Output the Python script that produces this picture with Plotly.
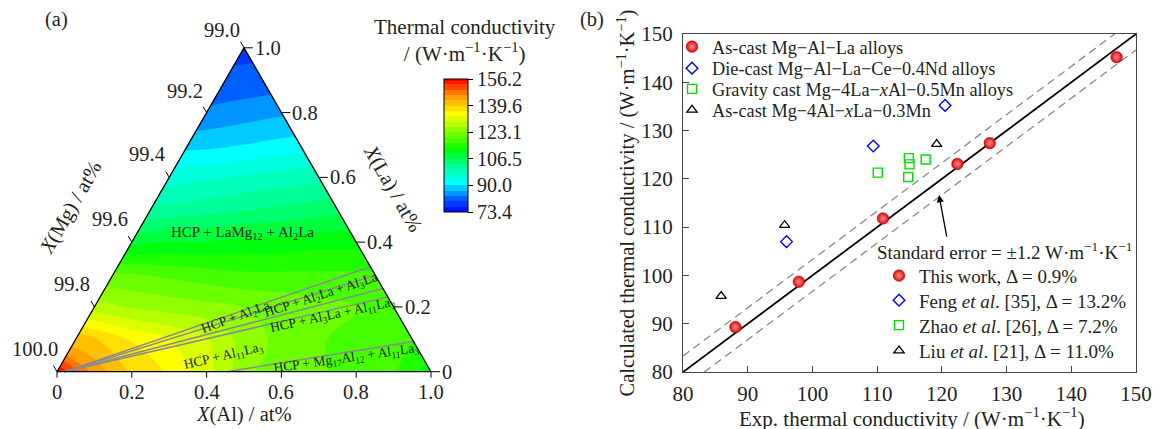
import plotly.graph_objects as go

FONT = "Liberation Serif"
TXT = "#231f20"

# ---------------- Panel (b) data ----------------
this_work_exp = [88.1, 97.9, 110.9, 122.4, 127.4, 147.0]
this_work_calc = [89.3, 98.7, 111.8, 123.1, 127.4, 145.2]
feng_exp = [96.0, 109.4, 120.5]
feng_calc = [107.0, 126.8, 135.2]
zhao_exp = [110.1, 114.9, 115.0, 117.5, 114.8]
zhao_calc = [121.3, 124.3, 123.0, 124.0, 120.4]
liu_exp = [85.9, 95.7, 119.2]
liu_calc = [95.7, 110.4, 127.2]
range_b = [80, 150]
ticks_b = [80, 90, 100, 110, 120, 130, 140, 150]
band_offset = 3.3
legend_a_names = [
    "As-cast Mg\u2212Al\u2212La alloys",
    "Die-cast Mg\u2212Al\u2212La\u2212Ce\u22120.4Nd alloys",
    "Gravity cast Mg\u22124La\u2212<i>x</i>Al\u22120.5Mn alloys",
    "As-cast Mg\u22124Al\u2212<i>x</i>La\u22120.3Mn",
]
legend_b_names = [
    "This work, \u0394 = 0.9%",
    "Feng <i>et al</i>. [35], \u0394 = 13.2%",
    "Zhao <i>et al</i>. [26], \u0394 = 7.2%",
    "Liu <i>et al</i>. [21], \u0394 = 11.0%",
]

# ---------------- Panel (a) data ----------------
# thermal conductivity read on a grid: rows = X(La) fraction, cols = horizontal position in triangle
la_levels = [0.0, 0.1, 0.2, 0.3, 0.4, 0.5, 0.6, 0.7, 0.8, 0.9, 1.0]
pos_levels = [0.0, 0.1, 0.2, 0.3, 0.4, 0.5, 0.6, 0.7, 0.8, 0.9, 1.0]
tc_row_00 = [156, 145, 139, 136, 131, 124, 121, 120, 119, 117, 111]
tc_row_01 = [143, 140, 136, 133, 130, 125, 122, 120, 119, 117, 116]
tc_row_02 = [130, 128, 126, 125, 124, 123, 122, 121, 120, 119, 119]
tc_row_03 = [121, 121, 120, 119, 118, 117, 117, 117, 117, 117, 117]
tc_row_04 = [109, 109, 109, 110, 110, 111, 111, 112, 112, 112, 112]
tc_row_05 = [100, 100, 100, 101, 102, 103, 104, 105, 106, 106, 106]
tc_row_06 = [95, 95, 95, 95, 96, 97, 98, 99, 100, 100, 100]
tc_row_07 = [89, 89, 89, 89, 89, 90, 91, 92, 92, 92, 92]
tc_row_08 = [83, 83, 83, 83, 84, 85, 86, 86, 86, 86, 86]
tc_row_09 = [80, 80, 80, 80, 80.5, 81, 81.5, 82, 82, 82, 82]
tc_row_10 = [79, 79, 79, 79, 79, 79, 79, 79, 79, 79, 79]
tc_grid = [tc_row_00, tc_row_01, tc_row_02, tc_row_03, tc_row_04, tc_row_05,
           tc_row_06, tc_row_07, tc_row_08, tc_row_09, tc_row_10]
cbar_min, cbar_max = 73.4, 156.2
cbar_ticks = [73.4, 90.0, 106.5, 123.1, 139.6, 156.2]
n_bands = 25

tick_fracs = [0.0, 0.2, 0.4, 0.6, 0.8, 1.0]
al_tick_labels = ["0", "0.2", "0.4", "0.6", "0.8", "1.0"]
la_tick_labels = ["0", "0.2", "0.4", "0.6", "0.8", "1.0"]
mg_tick_labels = ["100.0", "99.8", "99.6", "99.4", "99.2", "99.0"]
mg_label_lift = [23, 23, 23, 23, 22, 18]

# phase boundaries: start on La=0 edge (Al value), end on Mg=99 edge (La value)
boundary_al_start = [0.02, 0.02, 0.02, 0.02, 0.454]
boundary_la_end = [0.324, 0.298, 0.257, 0.231, 0.093]

phase_texts = [
    "HCP + LaMg<sub>12</sub> + Al<sub>2</sub>La",
    "HCP + Al<sub>2</sub>La",
    "HCP + Al<sub>2</sub>La + Al<sub>3</sub>La",
    "HCP + Al<sub>3</sub>La + Al<sub>11</sub>La<sub>3</sub>",
    "HCP + Al<sub>11</sub>La<sub>3</sub>",
    "HCP + Mg<sub>17</sub>Al<sub>12</sub> + Al<sub>11</sub>La<sub>3</sub>",
]
phase_al = [0.283, 0.396, 0.588, 0.648, 0.420, 0.754]
phase_la = [0.428, 0.166, 0.236, 0.175, 0.048, 0.042]
phase_angle = [0, -20, -18, -12, -13, -8]
phase_size = [15, 13.5, 13.5, 13.5, 13.5, 13.5]


def tern(al, la):
    return al + la / 2.0, la


# layout geometry (page is shifted by the 8 px body margin)
W, H = 1160, 429
OFF = 8.0


def sx(px):
    return (px - OFF) / W


def sy(py):
    return 1 - (py - OFF) / H


X0, SIDE, YB = 57.0 - OFF, 374.0, 371.7 - OFF
HT = SIDE * 0.8660254

fig = go.Figure()

colorscale = [
    [0.0, "#0000ff"], [0.1, "#0060ff"], [0.22, "#00ffff"], [0.35, "#00ff90"],
    [0.47, "#00ff00"], [0.6, "#80ff00"], [0.74, "#ffff00"], [0.87, "#ff9900"],
    [1.0, "#ff0000"],
]

fig.add_trace(go.Contour(
    x=pos_levels, y=la_levels, z=tc_grid, xaxis="x", yaxis="y",
    colorscale=colorscale, zmin=cbar_min, zmax=cbar_max, autocontour=False,
    contours=dict(start=cbar_min, end=cbar_max, size=(cbar_max - cbar_min) / n_bands,
                  coloring="fill", showlines=False),
    line=dict(width=0, smoothing=1.0), hoverinfo="skip",
    colorbar=dict(
        x=sx(444), xanchor="left", xpad=0, y=sy(145.5), yanchor="middle", ypad=0,
        len=133, lenmode="pixels", thickness=24, thicknessmode="pixels",
        outlinewidth=1, outlinecolor="black",
        tickvals=cbar_ticks, ticktext=[f"{v:.1f}" for v in cbar_ticks],
        ticks="outside", ticklen=5, tickcolor="black",
        tickfont=dict(family=FONT, size=20, color=TXT),
    ),
))

# white masks outside triangle
fig.add_trace(go.Scatter(x=[-0.06, 0, 0.5, 0.5, -0.06], y=[-0.02, 0, 1, 1.06, 1.06],
                         fill="toself", fillcolor="white", mode="none",
                         xaxis="x", yaxis="y", showlegend=False, hoverinfo="skip"))
fig.add_trace(go.Scatter(x=[1.06, 1, 0.5, 0.5, 1.06], y=[-0.02, 0, 1, 1.06, 1.06],
                         fill="toself", fillcolor="white", mode="none",
                         xaxis="x", yaxis="y", showlegend=False, hoverinfo="skip"))

# phase boundaries
bx, by = [], []
for a0, le in zip(boundary_al_start, boundary_la_end):
    p0 = tern(a0, 0.0)
    p1 = tern(1.0 - le, le)
    bx += [p0[0], p1[0], None]
    by += [p0[1], p1[1], None]
fig.add_trace(go.Scatter(x=bx, y=by, mode="lines", line=dict(color="#8c8c8c", width=1.5),
                         xaxis="x", yaxis="y", showlegend=False, hoverinfo="skip"))

# triangle outline
tri = [tern(0, 0), tern(1, 0), tern(0, 1), tern(0, 0)]
fig.add_trace(go.Scatter(x=[p[0] for p in tri], y=[p[1] for p in tri], mode="lines",
                         line=dict(color="black", width=1.3),
                         xaxis="x", yaxis="y", showlegend=False, hoverinfo="skip"))

# ternary ticks
tx, ty = [], []
for f in tick_fracs:
    p = tern(f, 0)  # Al axis (bottom)
    tx += [p[0], p[0], None]
    ty += [p[1], p[1] - 6 / HT, None]
    p = tern(1 - f, f)  # La axis (right edge)
    tx += [p[0], p[0] + 9 / SIDE, None]
    ty += [p[1], p[1], None]
    p = tern(0, f)  # Mg axis (left edge)
    tx += [p[0], p[0] - 3.5 / SIDE, None]
    ty += [p[1], p[1] + 6 / HT, None]
fig.add_trace(go.Scatter(x=tx, y=ty, mode="lines", line=dict(color="black", width=1),
                         xaxis="x", yaxis="y", showlegend=False, hoverinfo="skip"))

ann = []
tf = dict(family=FONT, size=20.5, color=TXT)
for f, lab in zip(tick_fracs, al_tick_labels):
    p = tern(f, 0)
    ann.append(dict(x=p[0], y=p[1], xref="x", yref="y", text=lab, showarrow=False,
                    xanchor="center", yanchor="middle", yshift=-20, font=tf))
for f, lab in zip(tick_fracs, la_tick_labels):
    p = tern(1 - f, f)
    ann.append(dict(x=p[0], y=p[1], xref="x", yref="y", text=lab, showarrow=False,
                    xanchor="left", yanchor="middle", xshift=9, font=tf))
for f, lab, lift in zip(tick_fracs, mg_tick_labels, mg_label_lift):
    p = tern(0, f)
    ann.append(dict(x=p[0], y=p[1], xref="x", yref="y", text=lab, showarrow=False,
                    xanchor="center", yanchor="middle", xshift=-22, yshift=lift, font=tf))

for t, a, l, ang, fs in zip(phase_texts, phase_al, phase_la, phase_angle, phase_size):
    p = tern(a, l)
    ann.append(dict(x=p[0], y=p[1], xref="x", yref="y", text=t, showarrow=False,
                    xanchor="center", yanchor="middle",
                    textangle=ang, font=dict(family=FONT, size=fs, color=TXT)))


def paper_text(x, y, text, angle=0, size=20.5):
    return dict(x=sx(x), y=sy(y), xref="paper", yref="paper", showarrow=False,
                xanchor="center", yanchor="middle", text=text, textangle=angle,
                font=dict(family=FONT, size=size, color=TXT))


unit = "(W\u00b7m<sup>\u22121</sup>\u00b7K<sup>\u22121</sup>)"
ann.append(paper_text(244, 414, "<i>X</i>(Al) / at%"))
ann.append(paper_text(70, 208, "<i>X</i>(Mg) / at%", -60))
ann.append(paper_text(393, 188, "<i>X</i>(La) / at%", 60))
ann.append(paper_text(465, 40, "Thermal conductivity<br>/ " + unit, size=21))
ann.append(paper_text(56, 19, "(a)"))
ann.append(paper_text(592, 19, "(b)"))

# ---------------- Panel (b) ----------------
fig.add_trace(go.Scatter(x=range_b, y=range_b, mode="lines", line=dict(color="black", width=1.8),
                         xaxis="x2", yaxis="y2", showlegend=False, hoverinfo="skip"))
fig.add_trace(go.Scatter(x=[range_b[0], range_b[1] - band_offset], y=[range_b[0] + band_offset, range_b[1]],
                         mode="lines", line=dict(color="#8a8a8a", width=1.3, dash="8px,5px"),
                         xaxis="x2", yaxis="y2", showlegend=False, hoverinfo="skip"))
fig.add_trace(go.Scatter(x=[range_b[0] + band_offset, range_b[1]], y=[range_b[0], range_b[1] - band_offset],
                         mode="lines", line=dict(color="#8a8a8a", width=1.3, dash="8px,5px"),
                         xaxis="x2", yaxis="y2", showlegend=False, hoverinfo="skip"))

markers = [
    dict(symbol="circle", size=11.5, color="#e60000", gradient=dict(type="radial", color="#ff9a9a"),
         line=dict(width=0.6, color="#b00000")),
    dict(symbol="diamond-open", size=9, color="#0000ff", line=dict(width=1.4)),
    dict(symbol="square-open", size=9, color="#00dd00", line=dict(width=1.4)),
    dict(symbol="triangle-up-open", size=9, color="black", line=dict(width=1.3)),
]
series = [(this_work_exp, this_work_calc), (feng_exp, feng_calc),
          (zhao_exp, zhao_calc), (liu_exp, liu_calc)]
leg_ids_a = ["legend", "legend2", "legend3", "legend4"]
leg_ids_b = ["legend5", "legend6", "legend7", "legend8"]
for (xs, ys), mk, nm, lid in zip(series, markers, legend_a_names, leg_ids_a):
    fig.add_trace(go.Scatter(x=xs, y=ys, mode="markers", marker=mk, name=nm, legend=lid,
                             xaxis="x2", yaxis="y2"))
for mk, nm, lid in zip(markers, legend_b_names, leg_ids_b):
    fig.add_trace(go.Scatter(x=[None], y=[None], mode="markers", marker=mk, name=nm, legend=lid,
                             xaxis="x2", yaxis="y2"))

ann.append(dict(x=119.56, y=116.65, xref="x2", yref="y2", text="", showarrow=True,
                ax=8, ay=43, arrowhead=2, arrowsize=1.1, arrowwidth=1.3, arrowcolor="black",
                standoff=0))
ann.append(dict(x=129.7, y=105.1, xref="x2", yref="y2", showarrow=False,
                xanchor="center", yanchor="middle",
                text="Standard error = \u00b11.2 W\u00b7m<sup>\u22121</sup>\u00b7K<sup>\u22121</sup>",
                font=dict(family=FONT, size=19, color=TXT)))
ann.append(paper_text(912, 417, "Exp. thermal conductivity / " + unit, size=21))

legend_rows_a = [46.7, 68.3, 89.0, 110.0]
legend_rows_b = [275.7, 300.3, 325.3, 350.7]
layout_legends = {}
for lid, yr in zip(leg_ids_a, legend_rows_a):
    layout_legends[lid] = dict(x=sx(672), xanchor="left", y=sy(yr), yanchor="middle",
                               bgcolor="rgba(0,0,0,0)", borderwidth=0,
                               font=dict(family=FONT, size=18.3, color=TXT))
for lid, yr in zip(leg_ids_b, legend_rows_b):
    layout_legends[lid] = dict(x=sx(879), xanchor="left", y=sy(yr), yanchor="middle",
                               bgcolor="rgba(0,0,0,0)", borderwidth=0,
                               font=dict(family=FONT, size=19, color=TXT))

axis_common = dict(range=range_b, tickvals=ticks_b, ticks="inside", ticklen=6, tickcolor="#444",
                   showline=True, linecolor="#444", linewidth=1.3, mirror=True,
                   showgrid=False, zeroline=False,
                   tickfont=dict(family=FONT, size=21, color=TXT))

fig.update_layout(
    width=W, height=H, margin=dict(l=0, r=0, t=0, b=0, autoexpand=False),
    paper_bgcolor="white", plot_bgcolor="white",
    font=dict(family=FONT, color=TXT),
    xaxis=dict(domain=[0, 0.5], range=[-X0 / SIDE, (0.5 * W - X0) / SIDE], visible=False, anchor="y"),
    yaxis=dict(domain=[0, 1], range=[(YB - H) / HT, YB / HT], visible=False, anchor="x"),
    xaxis2=dict(domain=[sx(683), sx(1136)], anchor="y2", ticklabelstandoff=3, **axis_common),
    yaxis2=dict(domain=[sy(372), sy(34)], anchor="x2", ticklabelstandoff=5,
                title=dict(text="Calculated thermal conductivity / " + unit,
                           font=dict(family=FONT, size=20.5, color=TXT), standoff=0),
                **axis_common),
    annotations=ann,
    **layout_legends,
)

fig.write_html("out.html")
